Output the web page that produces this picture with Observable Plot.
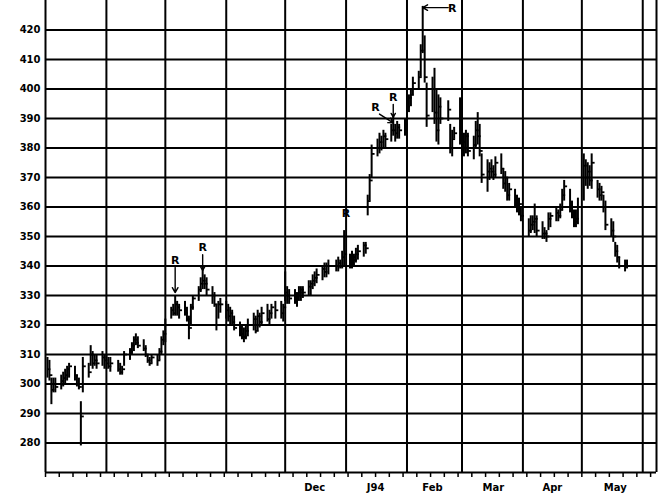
<!DOCTYPE html>
<html><head><meta charset="utf-8">
<script src="https://cdn.jsdelivr.net/npm/d3@7"></script>
<script src="https://cdn.jsdelivr.net/npm/@observablehq/plot@0.6"></script>
<style>
html,body{margin:0;padding:0;background:#fff;}
svg{display:block;}
</style></head><body><div id="chart"></div>
<script>
// ---- data ----
const months = ["1993-08","1993-09","1993-10","1993-11","1993-12","1994-01","1994-02","1994-03","1994-04","1994-05"];
const days = [
  [2,3,4,5,6,9,10,11,12,13,16,17,18,19,20,23,24,25,26,27,30,31],
  [1,2,3,7,8,9,10,13,14,15,16,17,20,21,22,23,24,27,28,29,30],
  [1,4,5,6,7,8,11,12,13,14,15,18,19,20,21,22,25,26,27,28,29],
  [1,2,3,4,5,8,9,10,11,12,15,16,17,18,19,22,23,24,26,29,30],
  [1,2,3,6,7,8,9,10,13,14,15,16,17,20,21,22,23,27,28,29,30,31],
  [3,4,5,6,7,10,11,12,13,14,17,18,19,20,21,24,25,26,27,28,31],
  [1,2,3,4,7,8,9,10,11,14,15,16,17,18,22,23,24,25,28],
  [1,2,3,4,7,8,9,10,11,14,15,16,17,18,21,22,23,24,25,28,29,30,31],
  [4,5,6,7,8,11,12,13,14,15,18,19,20,21,22,25,26,27,28,29],
  [2,3,4,5,6,9,10,11,12,13,16,17,18,19,20,23,24]
];
const high = [
  [309,308,302,302,302,303,304,305,306,307,306,303,302,294,309,307,313,311,310,310,311,310],
  [310,309,309,308,307,306,311,312,314,316,317,316,315,313,310,309,310,310,312,316,318],
  [322,326,327,330,328,327,328,326,323,327,330,333,336,340,337,336,333,331,327,328,329],
  [328,327,326,325,323,321,320,319,320,322,324,323,325,324,326,327,325,327,328,328,327],
  [338,333,332,332,331,333,333,333,335,335,337,338,339,340,341,341,342,342,343,342,345,352],
  [344,345,344,346,347,348,348,364,371,381,383,385,384,386,385,388,391,388,389,388,390],
  [396,398,400,404,406,415,428,418,402,404,407,400,398,397,396,388,386,387,397],
  [386,385,386,385,384,389,392,388,378,376,375,376,374,377,378,373,372,370,368,366,364,363,360],
  [356,357,357,361,357,355,353,352,358,358,360,359,361,366,369,366,362,359,359,363],
  [378,376,375,374,378,369,368,367,364,362,356,355,348,347,343,342,342]
];
const low = [
  [302,301,293,297,297,298,299,300,301,302,301,299,298,279,297,302,306,305,306,305,306,305],
  [305,305,304,304,303,303,306,308,310,311,313,312,311,309,307,306,307,306,308,310,313],
  [314,322,323,323,323,322,323,321,315,320,325,328,331,332,332,330,327,326,318,322,324],
  [322,321,320,320,318,316,315,314,315,316,318,317,318,319,320,321,320,322,322,322,321],
  [328,327,327,327,326,328,328,329,330,330,332,333,334,335,336,336,337,338,338,339,339,340],
  [339,339,340,341,342,343,344,357,362,370,377,378,379,380,380,382,384,382,383,383,384],
  [390,392,394,398,400,404,412,402,387,392,388,382,381,388,389,378,377,383,381],
  [378,377,378,377,376,380,381,377,368,365,369,370,369,370,371,366,365,362,362,360,358,357,355],
  [350,351,352,351,350,349,349,348,352,353,355,355,356,359,362,358,356,353,353,354],
  [362,367,366,367,366,363,362,362,358,352,350,348,343,341,339,338,339]
];
const close = [
  [305,303,298,300,299,301,302,303,305,306,303,300,299,289,306,304,310,307,308,307,309,308],
  [307,306,307,305,304,305,310,311,313,315,314,313,312,310,308,307,309,308,311,315,317],
  [320,325,324,327,326,325,324,322,319,326,329,332,334,335,334,332,330,327,320,327,327],
  [325,323,324,321,319,317,316,316,318,320,322,318,323,321,324,322,324,326,325,324,326],
  [331,330,329,328,330,331,332,331,333,334,335,336,337,339,338,340,340,340,341,340,343,344],
  [341,343,342,344,345,347,346,362,369,378,380,382,380,384,383,386,386,385,387,386,388],
  [394,397,398,402,404,413,420,404,391,400,392,386,394,390,393,380,383,385,385],
  [382,380,384,379,381,386,384,379,371,372,373,372,371,375,373,368,370,364,366,362,359,361,357],
  [352,354,355,356,352,351,351,350,356,357,358,357,359,364,367,360,358,355,356,360],
  [374,370,372,369,375,366,364,365,360,354,352,350,345,343,340,341,340]
];
const yTicks = [280,290,300,310,320,330,340,350,360,370,380,390,400,410,420];
const monthStarts = ["1993-09-01","1993-10-01","1993-11-01","1993-12-01","1994-01-01","1994-02-01","1994-03-01","1994-04-01","1994-05-01","1994-06-01"];
const monthLabels = ["Dec","J94","Feb","Mar","Apr","May"];
const monthLabelDates = ["1993-12-16","1994-01-16","1994-02-14","1994-03-17","1994-04-16","1994-05-18"];
const rLabelDates = ["1993-10-06","1993-10-20","1994-01-01","1994-01-16","1994-01-25","1994-02-24"];
const rLabelValues = [342, 346.3, 357.8, 393.7, 397.2, 427.3];
const arrowFromDates = ["1993-10-06","1993-10-20","1994-01-18","1994-01-25","1994-02-22"];
const arrowFromValues = [339.5, 343.8, 391.5, 394.8, 427.6];
const arrowToDates = ["1993-10-06","1993-10-20","1994-01-25","1994-01-25","1994-02-09"];
const arrowToValues = [331, 338.5, 388.5, 390.5, 427.6];
const xStart = "1993-08-01", xEnd = "1994-06-08";

// ---- build tables ----
const rows = [];
months.forEach((m, i) => days[i].forEach((d, j) => rows.push({
  date: new Date(`${m}-${String(d).padStart(2,"0")}`),
  high: high[i][j], low: low[i][j], close: close[i][j]
})));
const x0 = new Date(xStart), x1 = new Date(xEnd);
const labelDates = monthLabelDates.map(d => new Date(d));
const rLabels = rLabelDates.map((d, i) => ({date: new Date(d), value: rLabelValues[i]}));
const arrows = arrowFromDates.map((d, i) => ({
  xa: new Date(d), ya: arrowFromValues[i], xb: new Date(arrowToDates[i]), yb: arrowToValues[i]
}));
const sundays = d3.utcSunday.range(x0, x1);

const chart = Plot.plot({
  width: 668, height: 502,
  marginLeft: 45, marginRight: 12, marginTop: 0, marginBottom: 30,
  x: {type: "utc", domain: [x0, x1]},
  y: {domain: [270, 430]},
  style: {fontFamily: "'DejaVu Sans', sans-serif", fontWeight: "bold", fontSize: "10px", color: "#000", background: "#fff", overflow: "visible"},
  marks: [
    Plot.ruleY(yTicks, {stroke: "#000", strokeWidth: 2}),
    Plot.ruleX(monthStarts.map(d => new Date(d)), {stroke: "#000", strokeWidth: 2}),
    Plot.ruleX([x0, x1], {stroke: "#000", strokeWidth: 2}),
    Plot.ruleY([270], {stroke: "#000", strokeWidth: 2}),
    Plot.axisY({ticks: yTicks, tickSize: 0, tickPadding: 5, tickFormat: d => String(d), label: null}),
    Plot.axisX({ticks: sundays, tickSize: 5, tickFormat: () => "", label: null, strokeWidth: 1.5}),
    Plot.axisX({ticks: labelDates, tickSize: 0, tickPadding: 11, label: null,
      tickFormat: d => monthLabels[labelDates.findIndex(t => +t === +d)]}),
    Plot.ruleX(rows, {x: "date", y1: "low", y2: "high", stroke: "#000", strokeWidth: 2}),
    Plot.link(rows, {x1: "date", x2: d => d3.utcHour.offset(d.date, 36), y1: "close", y2: "close", stroke: "#000", strokeWidth: 1.8}),
    Plot.arrow(arrows, {x1: "xa", y1: "ya", x2: "xb", y2: "yb", stroke: "#000", strokeWidth: 1.4, headLength: 6}),
    Plot.text(rLabels, {x: "date", y: "value", text: () => "R", fontSize: 11, fontWeight: "bold", fill: "#000"})
  ]
});
document.getElementById("chart").append(chart);
</script>
</body></html>
